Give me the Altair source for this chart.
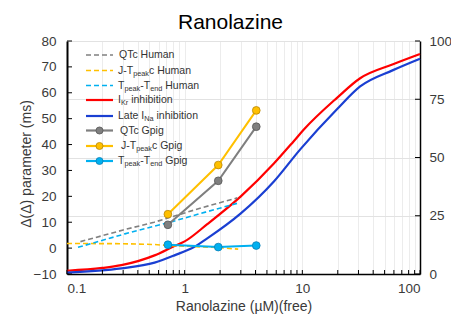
import altair as alt
import pandas as pd

FONT = "Liberation Sans"

# ---------------- data ----------------
# Human predictions (dashed), left axis, ms
qtc_h_x = [0.13, 0.3, 0.55, 0.82, 1.4, 2.8]
qtc_h_y = [2.5, 7.0, 10.0, 12.4, 15.6, 19.4]
jt_h_x = [0.1, 0.3, 0.55, 0.72, 1.9, 2.85]
jt_h_y = [1.8, 1.7, 1.4, 1.0, 0.2, -0.4]
tt_h_x = [0.124, 0.31, 0.75, 1.5, 2.8]
tt_h_y = [0.3, 5.5, 10.0, 13.9, 17.3]

# Guinea pig measurements (solid + markers), left axis, ms
gp_x = [0.72, 1.93, 4.06]
qtc_gp = [9.0, 26.0, 46.9]
jt_gp = [13.1, 32.1, 53.2]
tt_gp = [1.3, 0.4, 1.0]

# Channel inhibition, right axis, %
ikr_x = [0.1, 0.2, 0.29, 0.555, 0.818, 1.0, 1.556, 3.0, 5.73, 8.45, 10.3, 19.6, 31, 59, 100]
ikr_y = [1.4, 2.6, 3.8, 8.0, 12.0, 14.0, 21.4, 33.3, 47.4, 57.0, 62.0, 75.5, 84.0, 90.0, 94.4]
ina_x = [0.1, 0.29, 0.555, 0.818, 1.2, 1.556, 3.0, 5.73, 9.6, 19.6, 31, 59, 100]
ina_y = [0.6, 2.4, 4.9, 8.0, 11.6, 15.3, 26.0, 39.7, 53.5, 70.6, 80.5, 87.5, 92.4]

left_ticks = [-10, 0, 10, 20, 30, 40, 50, 60, 70, 80]
right_ticks = [0, 25, 50, 75, 100]
x_ticks = [m * 10.0 ** e for e in (-1, 0, 1) for m in range(1, 10)] + [100.0]

# ---------------- styles ----------------
GRAY, YEL, CYAN, RED, BLUE = "#7f7f7f", "#FFC000", "#00B0F0", "#FF0000", "#1a3fd2"
W, H = 353, 233
TXT = "#3a3a3a"

xscale = alt.Scale(type="log", domain=[0.1, 100], nice=False)
xaxis = alt.Axis(
    values=x_ticks, format="~g",
    labelExpr="abs(log(datum.value)/LN10 - round(log(datum.value)/LN10)) < 0.001 ? datum.label : ''",
    grid=True, gridColor="#ececec", gridWidth=1, ticks=False,
    domainColor="black", domainWidth=1.5,
    labelFont=FONT, labelFontSize=13.5, labelColor=TXT, labelPadding=7,
    title="Ranolazine (µM)(free)", titleFont=FONT, titleFontSize=14,
    titleFontWeight="normal", titleColor=TXT, titleY=32, titleBaseline="middle",
)
X = alt.X("x:Q", scale=xscale, axis=xaxis)

lscale = alt.Scale(domain=[-10, 80], nice=False, zero=False)
laxis = alt.Axis(
    orient="left", values=left_ticks, grid=False, ticks=False,
    domainColor="black", domainWidth=2,
    labelFont=FONT, labelFontSize=13.5, labelColor=TXT, labelPadding=11,
    title="Δ(Δ) parameter (ms)", titleFont=FONT, titleFontSize=14,
    titleFontWeight="normal", titleColor=TXT, titleX=-41, titleY=H / 2 + 6,
    titleBaseline="middle", titleAngle=-90,
)
YL = alt.Y("v:Q", scale=lscale, axis=laxis)

rscale = alt.Scale(domain=[0, 100], nice=False)
raxis = alt.Axis(
    orient="right", values=right_ticks, grid=True, gridColor="#e2e2e2", gridWidth=1,
    ticks=False, domainColor="black", domainWidth=1.5,
    labelFont=FONT, labelFontSize=13.5, labelColor=TXT, labelPadding=9, title=None,
)
YR = alt.Y("p:Q", scale=rscale, axis=raxis)


def df(xs, ys, col):
    return pd.DataFrame({"x": xs, col: ys})


# ---------------- right-axis group ----------------
ikr = alt.Chart(df(ikr_x, ikr_y, "p")).mark_line(color=RED, strokeWidth=2.2, interpolate="monotone").encode(x=X, y=YR)
ina = alt.Chart(df(ina_x, ina_y, "p")).mark_line(color=BLUE, strokeWidth=2.2, interpolate="monotone").encode(x=X, y=YR)
rticks = alt.Chart(pd.DataFrame({"p": right_ticks})).mark_rule(color="black", strokeWidth=1).encode(
    x=alt.value(W), x2=alt.value(W - 5), y=YR)
groupB = alt.layer(ikr, ina, rticks)

# ---------------- left-axis group ----------------
def dashed(xs, ys, color):
    return alt.Chart(df(xs, ys, "v")).mark_line(color=color, strokeWidth=1.6, strokeDash=[5, 3]).encode(x=X, y=YL)


def gpig(ys, color, stroke):
    d = df(gp_x, ys, "v")
    line = alt.Chart(d).mark_line(color=color, strokeWidth=2).encode(x=X, y=YL)
    pts = alt.Chart(d).mark_point(filled=True, fill=color, stroke=stroke, strokeWidth=0.8, size=60, opacity=1).encode(x=X, y=YL)
    return [line, pts]


lticks = alt.Chart(pd.DataFrame({"v": left_ticks})).mark_rule(color="black", strokeWidth=1).encode(
    x=alt.value(0), x2=alt.value(5), y=YL)
bticks = alt.Chart(pd.DataFrame({"x": x_ticks})).mark_rule(color="black", strokeWidth=1).encode(
    x=X, y=alt.value(H), y2=alt.value(H - 4))

groupA = alt.layer(
    dashed(qtc_h_x, qtc_h_y, "#808080"),
    dashed(jt_h_x, jt_h_y, YEL),
    dashed(tt_h_x, tt_h_y, CYAN),
    *gpig(tt_gp, CYAN, "#0a7fb5"),
    *gpig(qtc_gp, GRAY, "#555555"),
    *gpig(jt_gp, YEL, "#b8860b"),
    lticks, bticks,
)

# ---------------- custom legend (with subscripts) and title ----------------
one = pd.DataFrame({"a": [0]})
rows_y = [14, 29.5, 44.5, 59, 75, 89.5, 105, 120]
LX1, LX2 = 19, 46
FS, SFS = 10.5, 7.3
WIDTHS = {" ": 278, "-": 333, "J": 500, "T": 611, "p": 556, "e": 556, "a": 556, "k": 500, "c": 500,
          "H": 722, "u": 556, "m": 833, "n": 556, "d": 556, "I": 278, "K": 667, "r": 333, "i": 222,
          "h": 556, "b": 556, "t": 278, "o": 556, "L": 556, "N": 722, "G": 778, "g": 556, "Q": 778}


def leg_line(y, color, dash=None, marker=None):
    kw = dict(color=color, strokeWidth=1.6 if dash else 2.2)
    if dash:
        kw["strokeDash"] = dash
    out = [alt.Chart(one).mark_rule(**kw).encode(x=alt.value(LX1), x2=alt.value(LX2), y=alt.value(y))]
    if marker:
        out.append(alt.Chart(one).mark_point(filled=True, fill=color, stroke=marker, strokeWidth=0.8, size=50, opacity=1)
                   .encode(x=alt.value((LX1 + LX2) / 2), y=alt.value(y)))
    return out


def leg_text(parts, y, x0):
    out = []
    x = x0
    for txt, sub in parts:
        fs = SFS if sub else FS
        lead = len(txt) - len(txt.lstrip(" "))
        x += lead * WIDTHS[" "] * fs / 1000
        body = txt.lstrip(" ")
        out.append(alt.Chart(one).mark_text(align="left", baseline="middle", font=FONT, fontSize=fs, color="#333333")
                   .encode(x=alt.value(x), y=alt.value(y + (3 if sub else 0)), text=alt.value(body)))
        x += sum(WIDTHS.get(ch, 556) for ch in body) * fs / 1000
    return out


legend = []
legend += leg_line(rows_y[0], "#808080", [5, 3]) + leg_text([("QTc Human", False)], rows_y[0], 52)
legend += leg_line(rows_y[1], YEL, [5, 3]) + leg_text([("J-T", False), ("peak", True), ("c Human", False)], rows_y[1], 51)
legend += leg_line(rows_y[2], CYAN, [5, 3]) + leg_text([("T", False), ("peak", True), ("-T", False), ("end", True), (" Human", False)], rows_y[2], 51)
legend += leg_line(rows_y[3], RED) + leg_text([("I", False), ("Kr", True), (" inhibition", False)], rows_y[3], 51)
legend += leg_line(rows_y[4], BLUE) + leg_text([("Late I", False), ("Na", True), (" inhibition", False)], rows_y[4], 51)
legend += leg_line(rows_y[5], GRAY, marker="#555555") + leg_text([("QTc Gpig", False)], rows_y[5], 53)
legend += leg_line(rows_y[6], YEL, marker="#b8860b") + leg_text([("J-T", False), ("peak", True), ("c Gpig", False)], rows_y[6], 54)
legend += leg_line(rows_y[7], CYAN, marker="#0a7fb5") + leg_text([("T", False), ("peak", True), ("-T", False), ("end", True), (" Gpig", False)], rows_y[7], 51)

title = alt.Chart(one).mark_text(align="center", baseline="alphabetic", font=FONT, fontSize=21, color="black").encode(
    x=alt.value(W / 2 - 13), y=alt.value(-12), text=alt.value("Ranolazine"))

chart = alt.layer(groupB, groupA, *legend, title).resolve_scale(y="independent").properties(
    width=W, height=H,
    autosize=alt.AutoSizeParams(type="none"),
    padding={"left": 59, "top": 33, "right": 31, "bottom": 41},
).configure_view(stroke=None).configure(background="white")

chart.save("out.html", embed_options={"renderer": "svg", "actions": False})
